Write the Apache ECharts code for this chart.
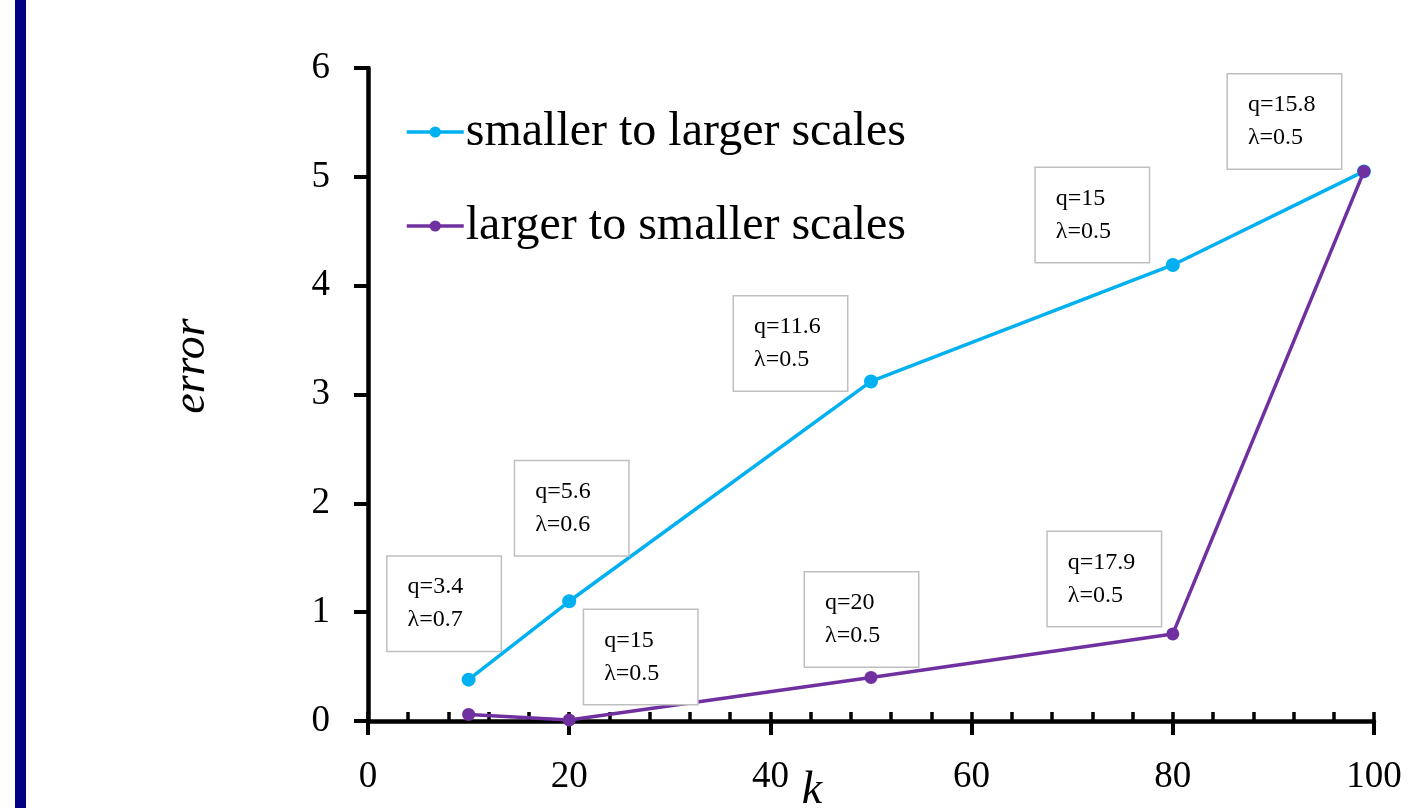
<!DOCTYPE html>
<html>
<head>
<meta charset="utf-8">
<title>error vs k</title>
<script src="https://cdn.jsdelivr.net/npm/echarts@6/dist/echarts.min.js"></script>
<style>
  html, body { margin: 0; padding: 0; background: #fff; }
  #chart { width: 1410px; height: 808px; }
</style>
</head>
<body>
<div id="chart"></div>
<script>
// k values shared by both curves
const kValues = [10, 20, 50, 80, 99];

// error for each direction of scale traversal
const smallToLargeError = [0.38, 1.10, 3.12, 4.19, 5.05];
const largeToSmallError = [0.06, 0.01, 0.40, 0.80, 5.05];

// annotation parameters (null = no annotation at that point)
const smallToLargeQ = [3.4, 5.6, 11.6, 15, 15.8];
const smallToLargeLambda = [0.7, 0.6, 0.5, 0.5, 0.5];
const largeToSmallQ = [null, 15, 20, 17.9, null];
const largeToSmallLambda = [null, 0.5, 0.5, 0.5, null];

const seriesNames = ['smaller to larger scales', 'larger to smaller scales'];
const yTicks = [0, 1, 2, 3, 4, 5, 6];
const xTicks = [0, 20, 40, 60, 80, 100];

// where each annotation box sits relative to its point: [left edge, vertical centre]
const smallToLargeBoxOffset = [[-81, -76], [-54, -93], [-137, -38], [-137, -50], [-136, -50]];
const largeToSmallBoxOffset = [null, [15, -63], [-66, -58], [-125, -55], null];

const SERIF = '"Liberation Serif", "Times New Roman", serif';
const BLUE = '#00B0F0';
const PURPLE = '#7030A0';

function buildData(ys, qs, lambdas, offsets) {
  return kValues.map(function (k, i) {
    const item = { value: [k, ys[i]] };
    if (qs[i] == null) {
      item.label = { show: false };
    } else {
      item.label = {
        show: true,
        position: 'inside',
        align: 'left',
        verticalAlign: 'middle',
        offset: offsets[i],
        formatter: 'q=' + qs[i] + '\nλ=' + lambdas[i],
        fontFamily: SERIF,
        fontSize: 24,
        lineHeight: 33,
        color: '#000',
        backgroundColor: '#fff',
        borderColor: '#bfbfbf',
        borderWidth: 1.5,
        padding: [14, 20, 14, 20],
        width: 73
      };
    }
    return item;
  });
}

const chart = echarts.init(document.getElementById('chart'), null, { renderer: 'canvas' });

chart.setOption({
  backgroundColor: '#fff',
  animation: false,
  grid: { left: 368, right: 36, top: 68, bottom: 87, containLabel: false },
  legend: {
    orient: 'vertical',
    left: 400,
    top: 103,
    itemWidth: 57,
    itemHeight: 14,
    itemGap: 46,
    data: seriesNames,
    lineStyle: { width: 3.5 },
    textStyle: { fontFamily: SERIF, fontSize: 48, color: '#000', padding: [0, 0, 0, -3] }
  },
  xAxis: [
    {
      type: 'value',
      min: xTicks[0],
      max: xTicks[xTicks.length - 1],
      interval: 20,
      axisLine: { show: true, lineStyle: { color: '#000', width: 4.5 } },
      axisTick: { show: true, inside: false, length: 14, lineStyle: { color: '#000', width: 4 } },
      axisLabel: { show: true, margin: 38, fontFamily: SERIF, fontSize: 37, color: '#000' },
      splitLine: { show: false }
    },
    {
      // inner minor ticks every 4 units
      type: 'value',
      position: 'bottom',
      min: xTicks[0],
      max: xTicks[xTicks.length - 1],
      interval: 4,
      axisLine: { show: false },
      axisTick: { show: true, inside: true, length: 9, lineStyle: { color: '#000', width: 3.5 } },
      axisLabel: { show: false },
      splitLine: { show: false }
    }
  ],
  yAxis: {
    type: 'value',
    min: yTicks[0],
    max: yTicks[yTicks.length - 1],
    interval: 1,
    axisLine: { show: true, lineStyle: { color: '#000', width: 4.5 } },
    axisTick: { show: true, inside: false, length: 14, lineStyle: { color: '#000', width: 4 } },
    axisLabel: { show: true, margin: 38, fontFamily: SERIF, fontSize: 37, color: '#000' },
    splitLine: { show: false }
  },
  series: [
    {
      name: seriesNames[0],
      type: 'line',
      xAxisIndex: 0,
      symbol: 'circle',
      symbolSize: 14,
      lineStyle: { color: BLUE, width: 3.5 },
      itemStyle: { color: BLUE },
      data: buildData(smallToLargeError, smallToLargeQ, smallToLargeLambda, smallToLargeBoxOffset),
      z: 2
    },
    {
      name: seriesNames[1],
      type: 'line',
      xAxisIndex: 0,
      symbol: 'circle',
      symbolSize: 13,
      lineStyle: { color: PURPLE, width: 3.5 },
      itemStyle: { color: PURPLE },
      data: buildData(largeToSmallError, largeToSmallQ, largeToSmallLambda, largeToSmallBoxOffset),
      z: 3
    }
  ],
  graphic: [
    {
      type: 'rect',
      shape: { x: 15, y: 0, width: 11, height: 808 },
      style: { fill: '#000080' },
      silent: true
    },
    {
      type: 'text',
      x: 192,
      y: 366,
      rotation: Math.PI / 2,
      style: {
        text: 'error',
        font: 'italic 46px ' + SERIF,
        fill: '#000',
        textAlign: 'center',
        textVerticalAlign: 'middle'
      }
    },
    {
      type: 'text',
      x: 812,
      y: 768,
      style: {
        text: 'k',
        font: 'italic 46px ' + SERIF,
        fill: '#000',
        textAlign: 'center',
        textVerticalAlign: 'top'
      }
    }
  ]
});
</script>
</body>
</html>
